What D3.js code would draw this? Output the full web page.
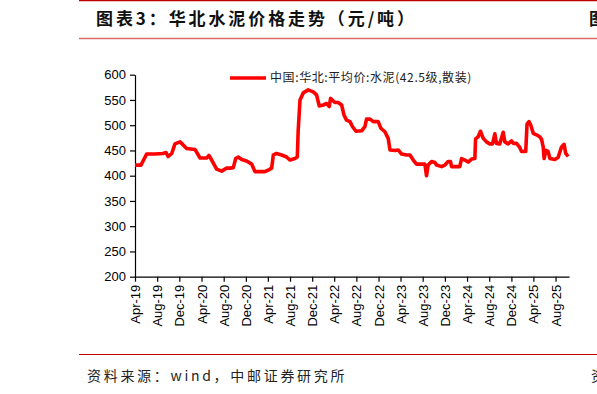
<!DOCTYPE html>
<html>
<head>
<meta charset="utf-8">
<script src="https://cdn.jsdelivr.net/npm/d3@7"></script>
<style>
  body { margin: 0; background: #fff; }
  svg { display: block; }
</style>
</head>
<body>
<div id="chart"></div>
<script>
// weekly-ish price readings, 元/吨
var dates = ["2019-04-01","2019-05-04","2019-06-04","2019-07-20","2019-09-02","2019-09-18","2019-10-01","2019-10-20",
  "2019-11-07","2019-12-05","2020-01-10","2020-02-25","2020-03-24","2020-04-29","2020-05-12","2020-05-27",
  "2020-06-23","2020-07-21","2020-08-17","2020-09-05","2020-09-23","2020-10-06","2020-10-20","2020-11-08",
  "2020-12-05","2021-01-02","2021-01-20","2021-03-16","2021-04-03","2021-04-22","2021-05-01","2021-05-19",
  "2021-06-16","2021-07-13","2021-08-01","2021-08-28","2021-09-10","2021-09-15","2021-09-25","2021-10-13",
  "2021-11-09","2021-12-07","2021-12-25","2022-01-09","2022-01-31","2022-02-18","2022-03-05","2022-03-12",
  "2022-04-05","2022-04-23","2022-05-12","2022-05-25","2022-06-08","2022-06-27","2022-07-11","2022-07-30",
  "2022-08-30","2022-09-17","2022-09-26","2022-10-15","2022-11-02","2022-11-29","2022-12-14","2023-01-05",
  "2023-01-23","2023-02-02","2023-03-01","2023-03-19","2023-04-07","2023-05-04","2023-05-23","2023-06-10",
  "2023-06-28","2023-07-26","2023-08-13","2023-08-22","2023-08-31","2023-09-19","2023-10-07","2023-10-16",
  "2023-11-13","2023-12-01","2023-12-19","2024-01-01","2024-01-07","2024-02-21","2024-03-02","2024-03-20",
  "2024-04-07","2024-04-26","2024-05-14","2024-05-18","2024-06-01","2024-06-14","2024-06-29","2024-07-17",
  "2024-08-04","2024-08-19","2024-09-01","2024-09-10","2024-09-28","2024-10-17","2024-10-26","2024-11-13",
  "2024-12-02","2024-12-11","2024-12-29","2025-01-16","2025-01-26","2025-02-18","2025-02-25","2025-03-08",
  "2025-03-18","2025-03-31","2025-04-18","2025-05-06","2025-05-16","2025-05-25","2025-05-30","2025-06-09",
  "2025-06-21","2025-07-01","2025-07-28","2025-08-15","2025-09-03","2025-09-17","2025-09-26","2025-10-09"];

var prices = [421,421,443,443,444,446,438,444,
  463,467,454,452,435,435,440,431,
  413,409,415,415,416,434,437,432,
  429,423,408,408,411,415,441,444,
  441,437,431,434,437,490,550,564,
  570,566,560,538,540,543,537,553,
  545,545,540,520,510,507,497,488,
  489,497,512,512,507,507,494,487,
  474,451,450,451,443,441,441,431,
  423,423,423,400,421,428,426,421,
  418,421,428,428,418,418,434,431,
  427,433,434,473,477,488,474,467,
  463,463,483,464,463,486,467,463,
  469,464,464,456,448,448,502,507,
  500,484,481,477,472,457,434,450,
  448,434,432,436,457,462,444,438];

var yTicks = [200, 250, 300, 350, 400, 450, 500, 550, 600];
var xTickLabels = ["Apr-19","Aug-19","Dec-19","Apr-20","Aug-20","Dec-20","Apr-21","Aug-21","Dec-21",
  "Apr-22","Aug-22","Dec-22","Apr-23","Aug-23","Dec-23","Apr-24","Aug-24","Dec-24","Apr-25","Aug-25"];
var xStart = "2019-04-01", xEnd = "2025-10-14";

var seriesName = "中国:华北:平均价:水泥(42.5级,散装)";
var title = "图表3：华北水泥价格走势（元/吨）";
var source = "资料来源：wind，中邮证券研究所";

var W = 597, H = 394;
var parseDay = d3.timeParse("%Y-%m-%d");
var parseTick = d3.timeParse("%b-%y");

var data = dates.map(function (d, i) { return { date: parseDay(d), value: prices[i] }; });

var svg = d3.select("#chart").append("svg")
  .attr("width", W)
  .attr("height", H);

// header rules and title
svg.append("line")
  .attr("x1", 79).attr("x2", W).attr("y1", 0.5).attr("y2", 0.5)
  .attr("stroke", "#c00000").attr("stroke-width", 1.5);
svg.append("line")
  .attr("x1", 79).attr("x2", W).attr("y1", 38.5).attr("y2", 38.5)
  .attr("stroke", "#d96a6a").attr("stroke-width", 1.5);
svg.append("text")
  .attr("x", 96).attr("y", 25)
  .style("font-family", "'Noto Sans CJK SC', sans-serif")
  .style("font-size", "17px")
  .style("font-weight", "bold")
  .style("letter-spacing", "2.9px")
  .attr("fill", "#111")
  .text(title);
// next chart's title, cut off by the page edge as in the source
svg.append("text")
  .attr("x", 589).attr("y", 25)
  .style("font-family", "'Noto Sans CJK SC', sans-serif")
  .style("font-size", "17px")
  .style("font-weight", "bold")
  .attr("fill", "#111")
  .text("图");

// footer
svg.append("line")
  .attr("x1", 79).attr("x2", W).attr("y1", 354.5).attr("y2", 354.5)
  .attr("stroke", "#c00000").attr("stroke-width", 1.2);
svg.append("text")
  .attr("x", 87).attr("y", 381)
  .style("font-family", "'Noto Sans CJK SC', sans-serif")
  .style("font-size", "14px")
  .style("letter-spacing", "2.7px")
  .attr("fill", "#222")
  .text(source);
svg.append("text")
  .attr("x", 591).attr("y", 381)
  .style("font-family", "'Noto Sans CJK SC', sans-serif")
  .style("font-size", "14px")
  .attr("fill", "#222")
  .text("资");

// scales
var x = d3.scaleTime()
  .domain([parseDay(xStart), parseDay(xEnd)])
  .range([135, 569]);

var y = d3.scaleLinear()
  .domain([200, 600])
  .range([276.7, 74.7]);

// y axis
var yAxis = svg.append("g")
  .attr("transform", "translate(135,0)")
  .call(d3.axisLeft(y).tickValues(yTicks).tickSize(5).tickSizeOuter(0).tickPadding(4));

// x axis
var xAxis = svg.append("g")
  .attr("transform", "translate(0,276.7)")
  .call(d3.axisBottom(x)
    .tickValues(xTickLabels.map(function (t) { return parseTick(t); }))
    .tickFormat(d3.timeFormat("%b-%y"))
    .tickSize(5)
    .tickSizeOuter(0));

xAxis.selectAll("text")
  .attr("transform", "rotate(-90)")
  .attr("x", -8)
  .attr("y", 0)
  .attr("dy", "0.35em")
  .style("text-anchor", "end");

[yAxis, xAxis].forEach(function (g) {
  g.selectAll("text")
    .style("font-family", "'Liberation Sans', Arial, sans-serif")
    .style("font-size", "13px")
    .attr("fill", "#000");
  g.selectAll("line, path").attr("stroke", "#000").attr("stroke-width", 1.2);
});

// the line
svg.append("path")
  .datum(data)
  .attr("fill", "none")
  .attr("stroke", "#ff0000")
  .attr("stroke-width", 3.6)
  .attr("stroke-linejoin", "round")
  .attr("d", d3.line()
    .x(function (d) { return x(d.date); })
    .y(function (d) { return y(d.value); }));

// legend
svg.append("line")
  .attr("x1", 230).attr("x2", 266).attr("y1", 78).attr("y2", 78)
  .attr("stroke", "#ff0000").attr("stroke-width", 3.6);
svg.append("text")
  .attr("x", 270).attr("y", 82)
  .style("font-family", "'Noto Sans CJK SC', sans-serif")
  .style("font-size", "12px")
  .style("letter-spacing", "0.6px")
  .attr("fill", "#222")
  .text(seriesName);
</script>
</body>
</html>
